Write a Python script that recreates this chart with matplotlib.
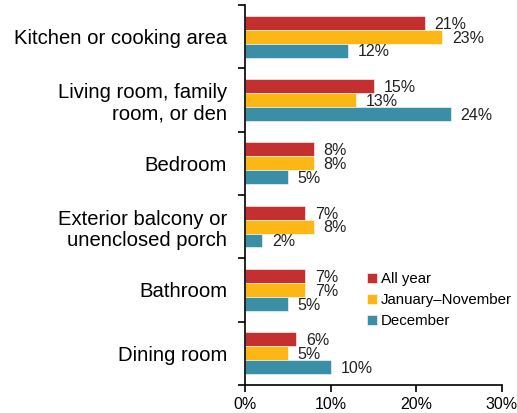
#!/usr/bin/env python3

import numpy as np
import matplotlib.pyplot as plt

plt.rcParams['font.family'] = ['Liberation Sans', 'DejaVu Sans']

# data
rooms = ['Kitchen or cooking area', 'Living room, family\nroom, or den', 'Bedroom',
         'Exterior balcony or\nunenclosed porch', 'Bathroom', 'Dining room']
all_year = [21, 15, 8, 7, 7, 6]
jan_nov = [23, 13, 8, 8, 7, 5]
december = [12, 24, 5, 2, 5, 10]
series_names = ['All year', 'January\u2013November', 'December']
colors = ['#C4302F', '#FDB714', '#3A8FA6']

fig = plt.figure(figsize=(5.17, 4.13), dpi=100)
ax = fig.add_axes([0.474, 0.068, 0.497, 0.920])

y = np.arange(len(rooms))
h = 0.22
for k, (vals, name, c) in enumerate(zip([all_year, jan_nov, december], series_names, colors)):
    pos = y + (k - 1) * h
    ax.barh(pos, vals, height=h, color=c, edgecolor='white', linewidth=0.4, label=name)
    for p, v in zip(pos, vals):
        ax.annotate(f'{v}%', (v, p), xytext=(7, -1), textcoords='offset points',
                    va='center', ha='left', fontsize=11.5, color='#222222')

ax.set_xlim(0, 30)
ax.set_ylim(len(rooms) - 0.5, -0.5)
ax.set_xticks([0, 10, 20, 30])
ax.set_xticklabels(['0%', '10%', '20%', '30%'], fontsize=11.5)
ax.set_yticks(y)
ax.set_yticklabels(rooms, fontsize=14.6, linespacing=1.15)
ax.tick_params(axis='y', which='major', length=0, pad=13)
ax.set_yticks(np.arange(len(rooms) + 1) - 0.5, minor=True)
ax.tick_params(axis='y', which='minor', length=5, width=1.2)
ax.tick_params(axis='x', length=5, width=1.2)

for s in ['top', 'right']:
    ax.spines[s].set_visible(False)
for s in ['left', 'bottom']:
    ax.spines[s].set_linewidth(1.2)

ax.legend(loc='upper left', bbox_to_anchor=(0.698, 0.355), bbox_transform=fig.transFigure,
          frameon=False, fontsize=10.8, handlelength=0.65, handleheight=0.65,
          handletextpad=0.3, labelspacing=0.45, borderaxespad=0)

fig.savefig('out.png', dpi=100)
